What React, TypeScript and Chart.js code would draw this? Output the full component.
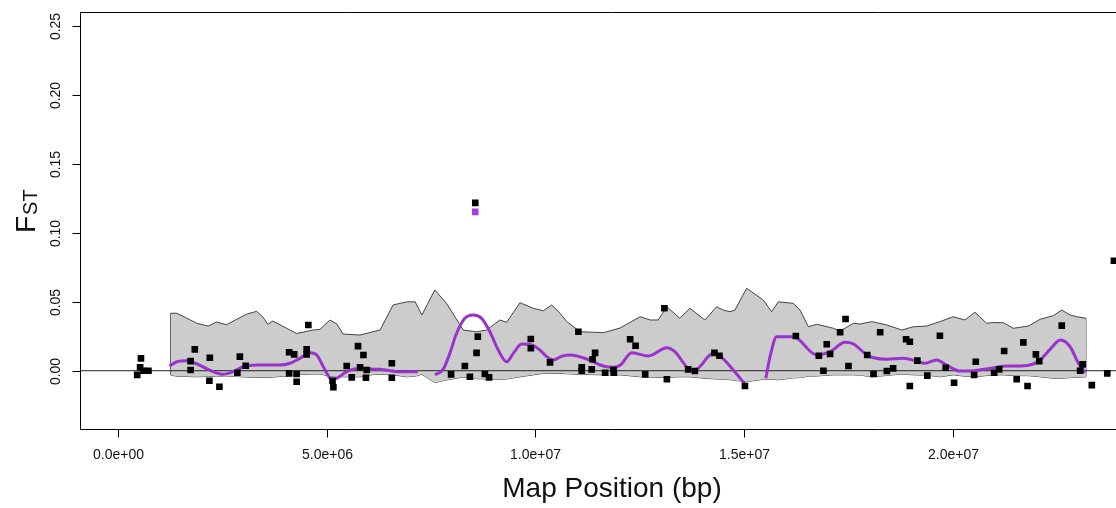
import React, { useEffect, useRef } from "react";
import { Chart, registerables } from "chart.js";

Chart.register(...registerables);

// ---- data (positions in Mb, values are FST) ----
const bandX = [1.26,1.41,1.89,2.16,2.36,2.60,3.08,3.32,3.47,3.59,3.71,4.04,4.28,4.67,4.84,5.08,5.24,5.39,5.80,6.11,6.28,6.59,6.92,7.12,7.28,7.59,7.87,8.27,8.59,8.83,9.15,9.31,9.63,9.95,10.19,10.39,10.59,10.75,11.07,11.63,12.03,12.51,12.75,12.94,13.15,13.46,13.70,14.06,14.34,14.50,14.66,14.78,15.06,15.46,15.66,15.82,16.18,16.34,16.54,16.74,17.14,17.30,17.62,17.78,18.06,18.42,18.78,19.05,19.37,19.69,20.01,20.29,20.53,20.81,20.97,21.21,21.45,21.81,22.09,22.41,22.61,22.81,22.97,23.19];
const bandUpper = [0.0417,0.0417,0.0344,0.0324,0.0353,0.0334,0.041,0.0431,0.039,0.0337,0.036,0.0308,0.027,0.0295,0.030,0.0368,0.034,0.0266,0.0259,0.0283,0.0295,0.0477,0.050,0.050,0.0404,0.0586,0.0489,0.0295,0.0283,0.0295,0.0368,0.0351,0.0493,0.0453,0.0435,0.0477,0.0417,0.0356,0.0283,0.0276,0.031,0.0392,0.0368,0.0368,0.0464,0.038,0.0453,0.0368,0.0464,0.044,0.0428,0.044,0.0598,0.0513,0.0428,0.050,0.0489,0.044,0.0319,0.0337,0.0308,0.0288,0.0344,0.0339,0.0356,0.0332,0.0295,0.0319,0.0324,0.0356,0.0392,0.0368,0.0424,0.0344,0.035,0.0348,0.0308,0.0324,0.0373,0.040,0.044,0.0404,0.0392,0.038];
const bandLower = [-0.0031,-0.004,-0.0044,-0.0042,-0.004,-0.0038,-0.0046,-0.0048,-0.0048,-0.0048,-0.0046,-0.0038,-0.0028,-0.0024,-0.0024,-0.004,-0.0044,-0.0044,-0.0044,-0.0028,-0.0026,-0.003,-0.0044,-0.004,-0.0026,-0.0087,-0.0067,-0.0046,-0.0058,-0.006,-0.0062,-0.006,-0.0044,-0.003,-0.0019,-0.0019,-0.0019,-0.0022,-0.0026,-0.003,-0.003,-0.0044,-0.0046,-0.0048,-0.0048,-0.0044,-0.0044,-0.0055,-0.006,-0.0062,-0.0065,-0.007,-0.008,-0.0062,-0.0062,-0.0066,-0.0052,-0.005,-0.004,-0.0038,-0.003,-0.003,-0.003,-0.0032,-0.0044,-0.0034,-0.0024,-0.003,-0.0032,-0.0044,-0.003,-0.004,-0.0044,-0.0035,-0.003,-0.003,-0.0035,-0.0036,-0.0044,-0.0055,-0.0055,-0.005,-0.0048,-0.0044];

const smoothAX = [1.23,1.41,1.65,1.89,2.28,2.52,2.76,3.00,3.32,3.88,4.12,4.36,4.60,4.76,4.92,5.12,5.24,5.48,5.72,6.28,6.76,7.18];
const smoothAY = [0.0034,0.0065,0.0073,0.0049,-0.0007,-0.0026,-0.0007,0.0029,0.0041,0.0041,0.0054,0.009,0.013,0.0114,0.0029,-0.0062,-0.0055,-0.0007,0.0015,0.001,-0.0007,-0.0007];
const smoothBX = [7.59,7.79,7.95,8.11,8.31,8.51,8.71,8.91,9.11,9.31,9.47,9.67,9.91,10.11,10.27,10.43,10.63,10.83,11.23,11.63,11.87,12.03,12.31,12.71,13.15,13.34,13.66,13.82,14.26,14.46,14.74,15.02];
const smoothBY = [-0.003,0.001,0.0126,0.027,0.038,0.0404,0.038,0.0283,0.015,0.0065,0.0126,0.0194,0.0187,0.015,0.0102,0.0078,0.0105,0.0114,0.0085,0.0034,0.0025,0.004,0.013,0.0107,0.0167,0.0138,0.0017,0.0005,0.0126,0.0097,0.0005,-0.0097];
const smoothCX = [15.52,15.62,15.78,16.18,16.74,17.06,17.42,17.62,17.94,18.10,18.42,18.81,19.13,19.33,19.61,19.85,20.17,20.49,20.89,21.29,21.61,21.93,22.09,22.33,22.58,22.81,23.01,23.17];
const smoothCY = [-0.0055,0.01,0.0247,0.0247,0.0114,0.0138,0.0206,0.0194,0.0114,0.0094,0.0083,0.009,0.007,0.0054,0.0078,0.0041,-0.0002,0,0.0017,0.0034,0.0034,0.0049,0.0078,0.0155,0.0223,0.0174,0.0054,-0.0015];

const smoothPeakX = [8.56];
const smoothPeakY = [0.1152];

const snpX = [0.55,0.53,0.46,0.61,0.73,1.84,1.74,1.74,2.20,2.19,2.43,2.92,3.06,2.86,4.56,4.10,4.22,4.52,4.52,4.10,4.28,4.28,5.14,5.16,5.48,5.60,5.75,5.88,5.80,5.96,5.94,6.56,6.56,8.31,7.98,8.43,8.62,8.59,8.79,8.89,8.56,9.89,9.89,10.35,11.03,11.43,11.37,11.11,11.11,11.35,11.67,11.87,11.88,12.27,12.40,12.63,13.09,13.15,13.66,13.82,14.29,14.41,15.02,16.24,16.79,16.98,17.06,16.90,17.43,17.30,17.50,18.26,17.95,18.10,18.42,18.57,18.88,18.97,18.97,19.15,19.39,19.69,19.83,20.03,20.51,20.55,20.99,21.11,21.23,21.53,21.69,21.79,21.99,22.07,22.61,23.11,23.05,23.33,23.70,23.86];
const snpY = [0.009,0.0025,-0.003,0.0,0.0,0.0155,0.007,0.0005,0.0094,-0.0073,-0.0116,0.0102,0.0036,-0.0015,0.0332,0.0134,0.0119,0.0155,0.0119,-0.0019,-0.0024,-0.008,-0.0073,-0.012,0.0034,-0.0048,0.0179,0.0114,0.0025,0.0005,-0.0051,0.0054,-0.0051,0.0034,-0.0026,-0.0044,0.0247,0.013,-0.0024,-0.0048,0.1217,0.023,0.0163,0.0061,0.0283,0.013,0.0083,0.0025,0.0,0.001,-0.0015,0.0005,-0.0015,0.0228,0.0181,-0.0026,0.0453,-0.0062,0.001,-0.0002,0.013,0.0109,-0.0111,0.0252,0.0109,0.0192,0.0121,0.0,0.0375,0.0279,0.0034,0.0279,0.0114,-0.0024,-0.0002,0.0017,0.0228,0.021,-0.0111,0.0073,-0.0036,0.0254,0.0022,-0.0087,-0.0031,0.0065,-0.0015,0.001,0.0143,-0.0062,0.0206,-0.0111,0.0119,0.007,0.0327,0.0046,0.0,-0.0104,-0.0019,0.0798];

const xTickValues = [0, 5e6, 1e7, 1.5e7, 2e7];
const xTickLabels = ["0.0e+00", "5.0e+06", "1.0e+07", "1.5e+07", "2.0e+07"];
const yTickValues = [0, 0.05, 0.1, 0.15, 0.2, 0.25];
const yTickLabels = ["0.00", "0.05", "0.10", "0.15", "0.20", "0.25"];

const X_MIN = -0.91e6;
const X_MAX = 24.58e6;
const Y_MIN = -0.0419;
const Y_MAX = 0.2602;

const W = 1160;
const H = 508;
const FONT = "'Liberation Sans', Arial, sans-serif";

const pts = (xs: number[], ys: number[]) => xs.map((x, i) => ({ x: x * 1e6, y: ys[i] }));

export default function App() {
  const ref = useRef<HTMLCanvasElement>(null);

  useEffect(() => {
    const canvas = ref.current;
    if (!canvas) return;

    const axesPlugin = {
      id: "rAxes",
      afterDraw(chart: any) {
        const { ctx, chartArea: a, scales } = chart;
        const xs = scales.x;
        const ys = scales.y;
        ctx.save();
        ctx.strokeStyle = "#000";
        ctx.lineWidth = 1;
        const L = Math.round(a.left) + 0.5;
        const T = Math.round(a.top) + 0.5;
        const R = Math.round(a.right) + 0.5;
        const B = Math.round(a.bottom) + 0.5;
        // frame (right side lies outside the visible window)
        ctx.beginPath();
        ctx.moveTo(R, T);
        ctx.lineTo(L, T);
        ctx.lineTo(L, B);
        ctx.lineTo(R, B);
        ctx.stroke();

        // x ticks
        ctx.fillStyle = "#111";
        ctx.font = `14px ${FONT}`;
        ctx.textAlign = "center";
        ctx.textBaseline = "middle";
        xTickValues.forEach((v, i) => {
          const px = Math.round(xs.getPixelForValue(v)) + 0.5;
          ctx.beginPath();
          ctx.moveTo(px, B);
          ctx.lineTo(px, B + 8);
          ctx.stroke();
          ctx.fillText(xTickLabels[i], px, 455);
        });

        // y ticks
        yTickValues.forEach((v, i) => {
          const py = Math.round(ys.getPixelForValue(v)) + 0.5;
          ctx.beginPath();
          ctx.moveTo(L, py);
          ctx.lineTo(L - 8, py);
          ctx.stroke();
          ctx.save();
          ctx.translate(56, py);
          ctx.rotate(-Math.PI / 2);
          ctx.fillText(yTickLabels[i], 0, 0);
          ctx.restore();
        });

        // x title
        ctx.font = `28px ${FONT}`;
        ctx.textAlign = "center";
        ctx.textBaseline = "alphabetic";
        ctx.fillText("Map Position (bp)", 612, 497);

        // y title F_ST
        ctx.save();
        ctx.translate(35, 233);
        ctx.rotate(-Math.PI / 2);
        ctx.textAlign = "left";
        ctx.font = `28px ${FONT}`;
        ctx.fillText("F", 0, 0);
        const fw = ctx.measureText("F").width;
        ctx.font = `20px ${FONT}`;
        ctx.fillText("ST", fw + 1, 2);
        ctx.restore();

        ctx.restore();
      },
    };

    const lineBase = { showLine: true, pointRadius: 0, tension: 0 };

    const chart = new Chart(canvas, {
      type: "scatter",
      data: {
        datasets: [
          {
            ...lineBase,
            data: pts(bandX, bandUpper),
            borderColor: "#444",
            borderWidth: 1,
            backgroundColor: "#CCCCCC",
            fill: 1,
            order: 10,
          },
          {
            ...lineBase,
            data: pts(bandX, bandLower),
            borderColor: "#444",
            borderWidth: 1,
            fill: false,
            order: 10,
          },
          {
            ...lineBase,
            data: [
              { x: bandX[0] * 1e6, y: bandLower[0] },
              { x: bandX[0] * 1e6, y: bandUpper[0] },
            ],
            borderColor: "#444",
            borderWidth: 1,
            fill: false,
            order: 10,
          },
          {
            ...lineBase,
            data: [
              { x: bandX[bandX.length - 1] * 1e6, y: bandLower[bandLower.length - 1] },
              { x: bandX[bandX.length - 1] * 1e6, y: bandUpper[bandUpper.length - 1] },
            ],
            borderColor: "#444",
            borderWidth: 1,
            fill: false,
            order: 10,
          },
          {
            ...lineBase,
            data: [
              { x: X_MIN, y: 0 },
              { x: X_MAX, y: 0 },
            ],
            borderColor: "#222",
            borderWidth: 1,
            fill: false,
            order: 6,
          },
          {
            ...lineBase,
            data: pts(smoothAX, smoothAY),
            borderColor: "#9933CC",
            borderWidth: 3,
            cubicInterpolationMode: "monotone",
            fill: false,
            order: 4,
          },
          {
            ...lineBase,
            data: pts(smoothBX, smoothBY),
            borderColor: "#9933CC",
            borderWidth: 3,
            cubicInterpolationMode: "monotone",
            fill: false,
            order: 4,
          },
          {
            ...lineBase,
            data: pts(smoothCX, smoothCY),
            borderColor: "#9933CC",
            borderWidth: 3,
            cubicInterpolationMode: "monotone",
            fill: false,
            order: 4,
          },
          {
            data: pts(smoothPeakX, smoothPeakY),
            showLine: false,
            pointStyle: "rect",
            pointRadius: 4.7,
            pointBorderWidth: 0,
            pointBackgroundColor: "#A43DE6",
            order: 2,
          },
          {
            data: pts(snpX, snpY),
            showLine: false,
            pointStyle: "rect",
            pointRadius: 4.7,
            pointBorderWidth: 0,
            pointBackgroundColor: "#000",
            order: 0,
          },
        ],
      } as any,
      options: {
        animation: false,
        responsive: false,
        maintainAspectRatio: false,
        events: [],
        layout: { padding: { left: 80, top: 12, right: W - 1144, bottom: H - 428.5 } },
        scales: {
          x: { type: "linear", display: false, min: X_MIN, max: X_MAX },
          y: { type: "linear", display: false, min: Y_MIN, max: Y_MAX },
        },
        plugins: {
          legend: { display: false },
          tooltip: { enabled: false },
        },
      } as any,
      plugins: [axesPlugin],
    });

    return () => chart.destroy();
  }, []);

  return (
    <div
      style={{
        position: "absolute",
        left: 0,
        top: 0,
        width: 1116,
        height: 508,
        overflow: "hidden",
        background: "#fff",
      }}
    >
      <canvas ref={ref} width={W} height={H} style={{ display: "block", width: W, height: H }} />
    </div>
  );
}
